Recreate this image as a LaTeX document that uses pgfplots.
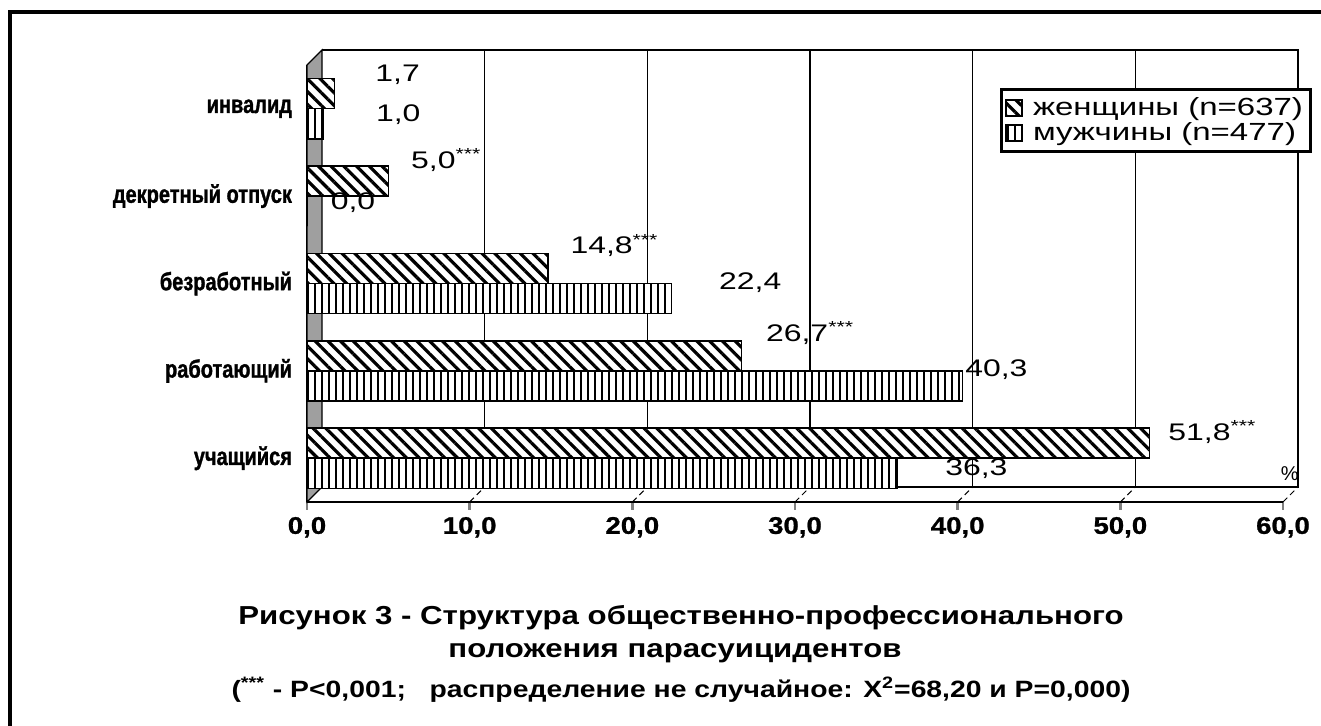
\documentclass[border=0pt]{standalone}
\usepackage{pgfplots}
\pgfplotsset{compat=1.18}
\usepackage{pgfplotstable}
\usetikzlibrary{patterns.meta}
\usepackage{fontspec}
\setmainfont{Liberation Sans}
\newfontfamily\widefont[FakeStretch=1.33]{Liberation Sans}
\newfontfamily\condfont[FakeStretch=0.8, BoldFeatures={FakeBold=1.2}]{Liberation Sans}
\newfontfamily\tickfont[FakeStretch=1.15, BoldFeatures={FakeBold=1}]{Liberation Sans}
\newfontfamily\capfont[FakeStretch=1.2]{Liberation Sans}

% y: 0 = учащийся ... 4 = инвалид; dx, dy: label offsets in pt
\pgfplotstableread{
y x dx dy lab
4 1.7 20 17 {1,7}
3 5.0 11 18 {5,0\textsuperscript{***}}
2 14.8 11 19 {14,8\textsuperscript{***}}
1 26.7 12 19 {26,7\textsuperscript{***}}
0 51.8 9 13 {51,8\textsuperscript{***}}
}\women
\pgfplotstableread{
y x dx dy lab
4 1.0 26 -3 {1,0}
3 0.0 11.5 -3.5 {0,0}
2 22.4 23.5 0.5 {22,4}
1 40.3 1 0.5 {40,3}
0 36.3 23.5 -5 {36,3}
}\men

\begin{document}
\begin{tikzpicture}[x=1pt,y=1pt]
\useasboundingbox (0,0) rectangle (660.5,363);
\draw[line width=2pt] (5,0) -- (5,357) -- (662,357);

\begin{axis}[
  at={(153.5pt,112pt)}, anchor=south west,
  scale only axis, width=488pt, height=218.5pt,
  xmin=0, xmax=60, ymin=-0.5, ymax=4.5,
  clip=false,
  axis x line*=bottom, axis y line*=left,
  axis line style={line width=1.3pt, -},
  tick align=outside,
  major tick length=4pt, minor tick length=4pt,
  xtick={0,10,...,60},
  ytick={0,...,4},
  yticklabels={учащийся,работающий,безработный,декретный отпуск,инвалид},
  minor ytick={-0.5,0.5,...,4.5},
  ytick style={draw=none},
  minor y tick style={line width=1pt},
  xtick style={line width=1.3pt},
  /pgf/number format/assume math mode=true,
  xticklabel style={font=\tickfont\bfseries\fontsize{12}{14}\selectfont,
    /pgf/number format/.cd, fixed, fixed zerofill, precision=1, use comma},
  yticklabel style={font=\condfont\bfseries\fontsize{12.5}{14}\selectfont},
  legend style={at={(0.71,0.947)}, anchor=north west, draw=black,
    line width=1.5pt, font=\widefont\fontsize{12.4}{13}\selectfont,
    inner sep=2pt, row sep=-2pt, cells={anchor=west}},
  legend image code/.code={\draw[#1, line width=0.8pt] (0pt,-4pt) rectangle (8pt,4pt);
    \path (11pt,0pt);},
  nodes near coords,
  point meta=explicit symbolic,
  visualization depends on={\thisrow{dx} \as \dx},
  visualization depends on={\thisrow{dy} \as \dy},
  every node near coord/.append style={anchor=west, inner sep=0pt,
    xshift=\dx pt, yshift=\dy pt, font=\widefont\fontsize{12}{14}\selectfont},
]
% back plane of the 3D frame
\pgfplotsinvokeforeach{10,20,30,40,50}{
  \draw[line width=0.6pt] ([shift={(7.5pt,7.5pt)}]axis cs:#1,-0.5) -- ([shift={(7.5pt,7.5pt)}]axis cs:#1,4.5);
  \draw[line width=0.5pt, densely dashed] (axis cs:#1,-0.5) -- ([shift={(7.5pt,7.5pt)}]axis cs:#1,-0.5);
}
\draw[line width=0.6pt] ([shift={(7.5pt,7.5pt)}]axis cs:0,-0.5) -- ([shift={(7.5pt,7.5pt)}]axis cs:60,-0.5)
  -- ([shift={(7.5pt,7.5pt)}]axis cs:60,4.5) -- ([shift={(7.5pt,7.5pt)}]axis cs:0,4.5);
\draw[line width=0.5pt, densely dashed] (axis cs:60,-0.5) -- ([shift={(7.5pt,7.5pt)}]axis cs:60,-0.5);
\filldraw[fill=gray!75, draw=black, line width=0.6pt] (axis cs:0,-0.5) -- ([shift={(7.5pt,7.5pt)}]axis cs:0,-0.5)
  -- ([shift={(7.5pt,7.5pt)}]axis cs:0,4.5) -- (axis cs:0,4.5) -- cycle;

\addplot[xbar, bar width=0.345, bar shift=0.1725, draw=black, line width=0.8pt,
  preaction={fill=white}, pattern={Lines[angle=-45,distance=4.5pt,line width=1.6pt]}]
  table[x=x, y=y, meta=lab] {\women};
\addlegendentry{женщины (n=637)}
\addplot[xbar, bar width=0.345, bar shift=-0.1725, draw=black, line width=0.8pt,
  preaction={fill=white}, pattern={Lines[angle=90,distance=3.5pt,line width=1pt]}]
  table[x=x, y=y, meta=lab] {\men};
\addlegendentry{мужчины (n=477)}

\node[anchor=center, font=\fontsize{10}{12}\selectfont] at (rel axis cs:1.007,0.066) {\%};
\end{axis}

\node[font=\capfont\bfseries\fontsize{13}{15}\selectfont] at (340.5,54) {Рисунок 3 - Структура общественно-профессионального};
\node[font=\capfont\bfseries\fontsize{13}{15}\selectfont] at (337.5,36.5) {положения парасуицидентов};
\node[font=\capfont\bfseries\fontsize{11.8}{14}\selectfont] at (340.5,18) {(\textsuperscript{***} - P<0,001;\quad распределение не случайное: Χ\textsuperscript{2}=68,20 и P=0,000)};
\end{tikzpicture}
\end{document}
